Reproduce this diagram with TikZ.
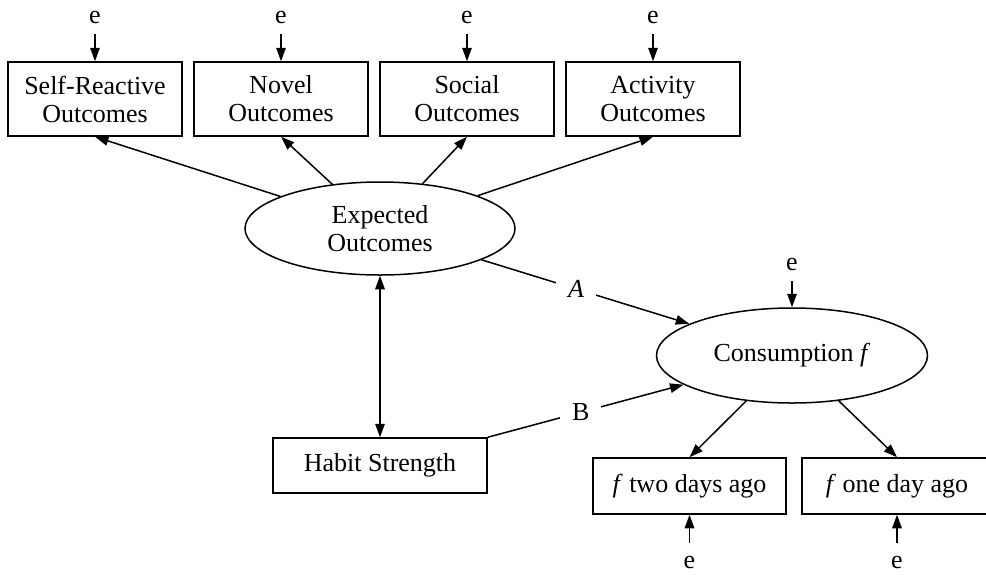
\documentclass[tikz,border=0pt]{standalone}
\usepackage{fontspec}
\setmainfont{Liberation Serif}
\usetikzlibrary{shapes.geometric,arrows.meta}
\begin{document}
\begin{tikzpicture}[x=1pt,y=-1pt,
  every node/.style={font=\fontsize{26}{28}\selectfont},
  box/.style={draw, line width=1.5pt, rectangle, align=center, inner sep=0pt},
  oval/.style={draw, line width=1.5pt, ellipse, align=center, inner sep=0pt},
  elabel/.style={inner sep=0pt, anchor=base},
  arr/.style={line width=1.5pt, -{Triangle[length=13.5pt,width=9.5pt]}},
  darr/.style={line width=1.5pt, {Triangle[length=13.5pt,width=9.5pt]}-{Triangle[length=13.5pt,width=9.5pt]}},
  lbl/.style={fill=white, inner xsep=12pt, inner ysep=2pt}
]
\clip (0,0) rectangle (986,574);
\fill[white] (0,0) rectangle (986,574);

% top observed boxes
\node[box, minimum width=174pt, minimum height=74pt] (sr)  at (95,99)  {Self-Reactive\\Outcomes};
\node[box, minimum width=174pt, minimum height=74pt] (nov) at (281,99) {Novel\\Outcomes};
\node[box, minimum width=174pt, minimum height=74pt] (soc) at (467,99) {Social\\Outcomes};
\node[box, minimum width=174pt, minimum height=74pt] (act) at (653,99) {Activity\\Outcomes};

% latent variables
\node[oval, minimum width=270pt, minimum height=93pt] (eo)  at (380,228.5) {Expected\\Outcomes};
\node[oval, minimum width=271pt, minimum height=95pt] (con) at (792,355.5) {Consumption \textit{f}};

% lower boxes
\node[box, minimum width=214pt, minimum height=55pt] (hab) at (380,465.5) {Habit Strength};
\node[box, minimum width=193pt, minimum height=56pt] (f2)  at (689.5,486) {\textit{f} two days ago};
\node[box, minimum width=190pt, minimum height=56pt] (f1)  at (897,486) {\textit{f} one day ago};

% error terms
\node[elabel] (e1) at (95,23)  {e};
\node[elabel] (e2) at (281,23) {e};
\node[elabel] (e3) at (467,23) {e};
\node[elabel] (e4) at (653,23) {e};
\node[elabel] (e5) at (792,270) {e};
\node[elabel] (e6) at (689.5,568) {e};
\node[elabel] (e7) at (897,568) {e};

\draw[arr, shorten <=11pt] (e1.south) -- (sr.north);
\draw[arr, shorten <=11pt] (e2.south) -- (nov.north);
\draw[arr, shorten <=11pt] (e3.south) -- (soc.north);
\draw[arr, shorten <=11pt] (e4.south) -- (act.north);
\draw[arr, shorten <=11pt] (e5.south) -- (con.north);
\draw[arr, shorten <=13pt] (e6.north) -- (f2.south);
\draw[arr, shorten <=13pt] (e7.north) -- (f1.south);

% loadings
\draw[arr] (eo) -- (sr.south);
\draw[arr] (eo) -- (nov.south);
\draw[arr] (eo) -- (soc.south);
\draw[arr] (eo) -- (act.south);
\draw[arr] (con) -- (f2.north);
\draw[arr] (con) -- (f1.north);

% structural paths
\draw[arr] (eo) -- node[lbl, pos=0.455] {\textit{A}} (con);
\draw[arr] (hab.north east) -- node[lbl, pos=0.475] {B} (con);
\draw[darr] (eo.south) -- (hab.north);
\end{tikzpicture}
\end{document}
